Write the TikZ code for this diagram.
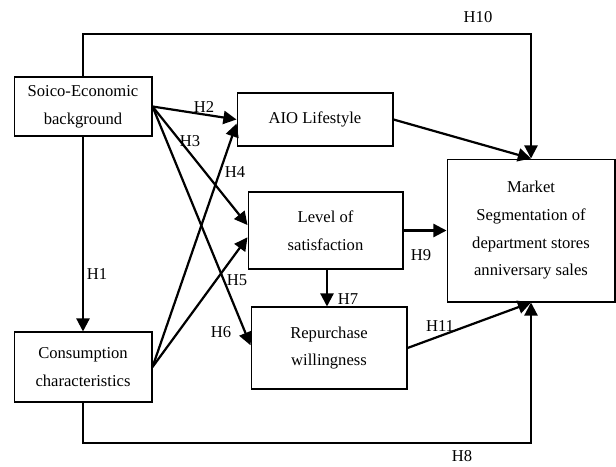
\documentclass[tikz,border=0pt]{standalone}
\usepackage{fontspec}
\setmainfont{Liberation Serif}
\usetikzlibrary{positioning,arrows.meta}

\begin{document}
\begin{tikzpicture}[
    x=0.0254cm, y=-0.0254cm,
    every node/.style={font=\fontsize{12}{20}\selectfont},
    box/.style={rectangle, draw=black, line width=0.75pt, align=center, inner sep=0pt, text centered},
    conn/.style={line width=1.6pt, -{Triangle[length=9.5pt, width=9.5pt]}},
    hlab/.style={inner sep=0pt}
]
\useasboundingbox (0,0) rectangle (616,466);

% constructs
\node [box, minimum width=3.505cm, minimum height=1.499cm] (Socio) at (83,106.5) {Soico-Economic\\ background};
\node [box, minimum width=3.505cm, minimum height=1.778cm] (Consum) at (83,367) {Consumption\\ characteristics};
\node [box, minimum width=3.962cm, minimum height=1.346cm] (AIO) at (315,119.5) {AIO Lifestyle};
\node [box, minimum width=3.937cm, minimum height=1.956cm] (Satis) at (325.5,230.5) {Level of\\ satisfaction};
\node [box, minimum width=3.962cm, minimum height=2.083cm] (Repur) at (329,348) {Repurchase\\ willingness};
\node [box, minimum width=4.267cm, minimum height=3.632cm] (Market) at (531,230.5) {Market\\ Segmentation of\\ department stores\\ anniversary sales};

\coordinate (TopBend) at (531,34);
\coordinate (BotBend) at (531,443);

% hypotheses
\draw [conn] (Socio.north) |- (TopBend) -- (Market.north);
\draw [conn] (Socio.south) -- (Consum.north);
\draw [conn] (Consum.south) |- (BotBend) -- (Market.south);
\draw [conn] (Socio.east) -- (AIO.west);
\draw [conn] (Socio.east) -- (Satis.176);
\draw [conn] (Socio.east) -- (Repur.178);
\draw [conn] (Consum.east) -- (AIO.183);
\draw [conn] (Consum.east) -- (Satis.185);
\draw [conn] (AIO.east) -- (Market.north);
\draw [conn] (Satis.east) -- (Market.west);
\draw [conn] (Satis.south -| 327,0) -- (Repur.north -| 327,0);
\draw [conn] (Repur.east) -- (Market.south);

% labels
\node [hlab] (H10) at (478,17) {H10};
\node [hlab] (H1) at (97,274) {H1};
\node [hlab] (H2) at (204,107) {H2};
\node [hlab] (H3) at (190,141) {H3};
\node [hlab] (H4) at (235,172) {H4};
\node [hlab] (H5) at (237,280) {H5};
\node [hlab] (H6) at (221,332) {H6};
\node [hlab] (H7) at (348,299) {H7};
\node [hlab] (H8) at (462,456) {H8};
\node [hlab] (H9) at (421,255) {H9};
\node [hlab] (H11) at (440,326) {H11};

\end{tikzpicture}
\end{document}
